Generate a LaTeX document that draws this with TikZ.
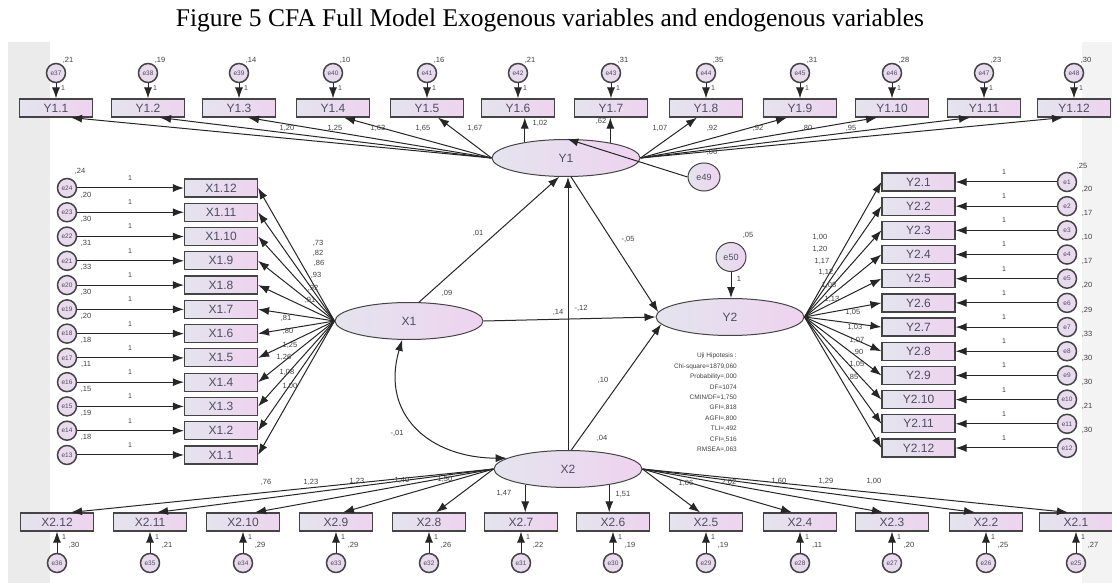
\documentclass[tikz,border=0pt]{standalone}
\usepackage{fontspec}
\setmainfont{Liberation Serif}
\setsansfont{Liberation Sans}
\usetikzlibrary{arrows.meta,shapes.geometric}
\definecolor{bxl}{HTML}{E4E4EE}
\definecolor{bxr}{HTML}{EED3EF}
\definecolor{edgec}{HTML}{444444}
\definecolor{txtc}{HTML}{4E4E5E}
\definecolor{stripc}{HTML}{EBEBEB}
\tikzset{
 obs/.style={rectangle, draw=edgec, line width=1.2pt, left color=bxl, right color=bxr, minimum width=73pt, minimum height=18pt, inner sep=0pt, font=\sffamily\fontsize{12}{12}\selectfont, text=txtc},
 lat/.style={ellipse, draw=edgec, line width=1pt, left color=bxl, right color=bxr, minimum width=148pt, minimum height=37pt, inner sep=0pt, font=\sffamily\fontsize{12}{12}\selectfont, text=txtc},
 err/.style={circle, draw=edgec, line width=1.5pt, fill=bxl!50!bxr, minimum size=19pt, inner sep=0pt, font=\sffamily\fontsize{6.5}{6.5}\selectfont, text=txtc},
 bigerr/.style={ellipse, draw=edgec, line width=1pt, left color=bxl, right color=bxr, minimum width=32pt, minimum height=28pt, inner sep=0pt, font=\sffamily\fontsize{9}{9}\selectfont, text=txtc},
 val/.style={font=\sffamily\fontsize{7.5}{7.5}\selectfont, text=black!75, inner sep=0pt},
 onelab/.style={font=\sffamily\fontsize{7}{7}\selectfont, text=black!75, inner sep=0pt},
 arr/.style={-{Latex[length=11pt,width=8pt]}, line width=1pt, draw=black!85},
 dbl/.style={{Latex[length=11pt,width=8pt]}-{Latex[length=11pt,width=8pt]}, line width=1pt, draw=black!85},
}
\begin{document}
\begin{tikzpicture}[x=1pt,y=-1pt]
\useasboundingbox (0,0) rectangle (1112,583);
\fill[white] (0,0) rectangle (1112,583);
\fill[stripc] (8,42) rectangle (50,583);
\fill[stripc!60] (1082,42) rectangle (1112,583);
\node[font=\fontsize{25.5}{25.5}\selectfont, anchor=base, inner sep=0pt] (title) at (550,27) {Figure 5 CFA Full Model Exogenous variables and endogenous variables};

% latent variables
\node[lat] (Y1) at (566,158) {Y1};
\node[lat] (X1) at (409,321) {X1};
\node[lat] (Y2) at (730,317) {Y2};
\node[lat] (X2) at (568,469) {X2};

% top row Y1.k
\foreach \k/\x/\e/\v in {1/56/37/21, 2/148/38/19, 3/239/39/14, 4/333/40/10, 5/427/41/16, 6/518/42/21, 7/611/43/31, 8/706/44/35, 9/800/45/31, 10/892/46/28, 11/984/47/23, 12/1074/48/30}{
  \node[obs] (t\k) at (\x,108) {Y1.\k};
  \node[err] (te\k) at (\x,73) {e\e};
  \draw[arr] (te\k) -- (t\k);
  \node[val] (tv\k) at ({\x+12},60) {,\v};
  \node[onelab] (to\k) at ({\x+7},88) {1};
}
\foreach \k/\o in {1/15, 2/12, 3/9, 4/11, 5/11}{
  \draw[arr] (Y1.west) -- ([xshift=\o pt]t\k.south);
}
\draw[arr] (Y1.159) -- (Y1.159 |- t6.south);
\draw[arr] (Y1.19) -- (Y1.19 |- t7.south);
\foreach \k/\o in {8/-9, 9/-13, 10/-15, 11/-14, 12/-11}{
  \draw[arr] (Y1.east) -- ([xshift=\o pt]t\k.south);
}

% left column X1.k
\foreach \k/\e in {12/24, 11/23, 10/22, 9/21, 8/20, 7/19, 6/18, 5/17, 4/16, 3/15, 2/14, 1/13}{
  \pgfmathsetmacro\yy{188+(12-\k)*24.27}
  \node[obs] (l\k) at (221,\yy) {X1.\k};
  \node[err] (le\k) at (67,\yy) {e\e};
  \draw[arr] (le\k) -- (l\k);
  \node[onelab] (lo\k) at (130,{\yy-10}) {1};
  \draw[arr] (X1.west) -- (l\k.east);
}
\foreach \k/\v in {12/20, 11/30, 10/31, 9/33, 8/30, 7/20, 6/18, 5/11, 4/15, 3/19, 2/18}{
  \pgfmathsetmacro\yy{188+(12-\k)*24.27}
  \node[val] (lv\k) at (86,{\yy+7}) {,\v};
}
\node[val] (lvtop) at (80,171) {,24};

% right column Y2.k
\foreach \k in {1,...,12}{
  \pgfmathsetmacro\yy{182+(\k-1)*24.18}
  \node[obs] (r\k) at (918.5,\yy) {Y2.\k};
  \node[err] (re\k) at (1067,\yy) {e\k};
  \draw[arr] (re\k) -- (r\k);
  \node[onelab] (ro\k) at (1004,{\yy-10}) {1};
  \draw[arr] (Y2.east) -- (r\k.west);
}
\foreach \k/\v in {1/20, 2/17, 3/10, 4/17, 5/20, 6/29, 7/33, 8/30, 9/30, 10/21, 11/30}{
  \pgfmathsetmacro\yy{182+(\k-1)*24.18}
  \node[val] (rv\k) at (1087,{\yy+7}) {,\v};
}
\node[val] (rvtop) at (1082,166) {,25};

% bottom row X2.k
\foreach \k/\x/\e/\v in {12/57/36/30, 11/150/35/21, 10/243/34/29, 9/336/33/29, 8/429/32/26, 7/521/31/22, 6/613/30/19, 5/706/29/19, 4/800/28/11, 3/892/27/20, 2/986/26/25, 1/1076/25/27}{
  \node[obs] (b\k) at (\x,522) {X2.\k};
  \node[err] (be\k) at (\x,563) {e\e};
  \draw[arr] (be\k) -- (b\k);
  \node[val] (bv\k) at ({\x+17},545) {,\v};
  \node[onelab] (bo\k) at ({\x+7},537) {1};
}
\foreach \k/\o in {12/14, 11/7, 10/12, 9/7, 8/7}{
  \draw[arr] (X2.west) -- ([xshift=\o pt]b\k.north);
}
\draw[arr] (X2.200) -- (X2.200 |- b7.north);
\draw[arr] (X2.339) -- (X2.339 |- b6.north);
\foreach \k/\o in {5/-6, 4/-8, 3/-9, 2/-11, 1/-8}{
  \draw[arr] (X2.east) -- ([xshift=\o pt]b\k.north);
}

% structural paths
\draw[arr] (X1.62) -- (Y1.250);
\draw[arr] (X1.east) -- (Y2.west);
\draw[arr] (X2.north) -- (X2.north |- Y1.south);
\draw[arr] (Y1.285) -- (Y2.176);
\draw[arr] (X2.80) -- (Y2.186);
\draw[dbl] (X1.250) .. controls (380,415) and (430,458) .. (X2.170);

\node[bigerr] (e49) at (704,177) {e49};
\draw[arr] (e49.west) -- (Y1.86);
\node[bigerr, minimum width=30pt, minimum height=29pt] (e50) at (731,257) {e50};
\draw[arr] (e50.south) -- (e50.south |- Y2.north);

% loading labels
\foreach \t/\x/\y [count=\i] in {{1,20}/287/128, {1,25}/335/128, {1,63}/378/128, {1,65}/423/128, {1,67}/475/128, {1,02}/540/123, {,62}/601/121, {1,07}/660/128, {,92}/712/128, {,92}/758/128, {,80}/807/128, {,95}/851/128}{
  \node[val] (ty\i) at (\x,\y) {\t};
}
\foreach \t/\x/\y [count=\i] in {{,73}/318/243, {,82}/318/253, {,86}/319/263, {,93}/316/275, {,92}/313/288, {,91}/310/300, {,81}/286/318, {,80}/288/331, {1,25}/290/345, {1,26}/284/357, {1,08}/287/372, {1,00}/290/386}{
  \node[val] (lx\i) at (\x,\y) {\t};
}
\foreach \t/\x/\y [count=\i] in {{1,00}/820/237, {1,20}/820/249, {1,17}/822/261, {1,12}/826/272, {1,08}/829/285, {1,13}/832/299, {1,05}/853/312, {1,03}/855/327, {1,07}/857/340, {,90}/858/352, {1,05}/857/364, {,85}/853/377}{
  \node[val] (ry\i) at (\x,\y) {\t};
}
\foreach \t/\x/\y [count=\i] in {{,76}/266/482, {1,23}/311/482, {1,23}/357/481, {1,40}/402/480, {1,50}/445/479, {1,47}/504/493, {1,51}/623/494, {1,06}/686/483, {2,02}/729/482, {1,60}/779/481, {1,29}/826/481, {1,00}/874/481}{
  \node[val] (bx\i) at (\x,\y) {\t};
}
\foreach \t/\x/\y [count=\i] in {{,01}/478/233, {,09}/447/293, {,14}/558/312, {-,12}/581/308, {-,05}/628/239, {,10}/603/380, {,04}/602/438, {-,01}/397/433, {,06}/712/152, {,05}/748/235, {1}/739/279}{
  \node[val] (sx\i) at (\x,\y) {\t};
}

\node[font=\sffamily\fontsize{6.5}{10.4}\selectfont, align=right, anchor=north east, inner sep=0pt, text=black!75] (fit) at (737,353) {Uji Hipotesis :\\Chi-square=1879,060\\Probability=,000\\DF=1074\\CMIN/DF=1,750\\GFI=,818\\AGFI=,800\\TLI=,492\\CFI=,516\\RMSEA=,063};
\end{tikzpicture}
\end{document}
